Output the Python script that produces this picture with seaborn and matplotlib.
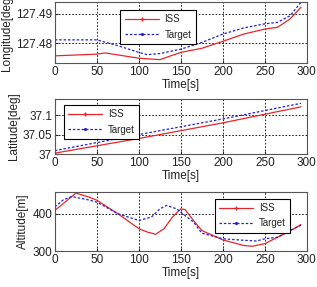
import numpy as np
import pandas as pd
import matplotlib
matplotlib.use('Agg')
import matplotlib.pyplot as plt
from matplotlib.lines import Line2D
import seaborn as sns

sns.set_style('ticks')
plt.rcParams['font.family'] = ['Liberation Sans', 'DejaVu Sans']
plt.rcParams['font.size'] = 8.5
plt.rcParams['text.color'] = '#222222'
plt.rcParams['axes.labelcolor'] = '#222222'
plt.rcParams['xtick.color'] = '#222222'
plt.rcParams['ytick.color'] = '#222222'

# 경도
lon_iss_t = [0, 50, 60, 100, 125, 150, 175, 200, 225, 250, 265, 280, 293]
lon_iss = [127.4756, 127.4762, 127.4766, 127.4748, 127.4743, 127.4768, 127.4782,
           127.4806, 127.4831, 127.4848, 127.4854, 127.4883, 127.4923]
lon_tgt_t = [0, 50, 75, 100, 110, 125, 150, 175, 200, 225, 250, 265, 280, 293]
lon_tgt = [127.4811, 127.4811, 127.4791, 127.4768, 127.4760, 127.4764, 127.4779,
           127.4802, 127.4831, 127.4852, 127.4866, 127.4871, 127.4894, 127.4940]

# 위도
lat_iss_t = [0, 100, 200, 293]
lat_iss = [37.0025, 37.040, 37.080, 37.121]
lat_tgt_t = [0, 100, 150, 200, 293]
lat_tgt = [37.009, 37.050, 37.070, 37.090, 37.130]

# 고도
alt_iss_t = [0, 10, 25, 40, 50, 75, 100, 110, 120, 130, 140, 150, 155, 165, 175,
             200, 225, 235, 250, 265, 280, 293]
alt_iss = [409, 427, 455, 445, 436, 400, 360, 351, 345, 360, 391, 413, 411, 382, 355,
           330, 315, 313, 320, 337, 354, 371]
alt_tgt_t = [0, 10, 20, 40, 50, 75, 100, 115, 125, 133, 145, 155, 165, 175,
             200, 225, 240, 250, 265, 280, 293]
alt_tgt = [418, 437, 446, 437, 431, 400, 382, 391, 413, 422, 413, 395, 378, 348,
           333, 329, 327, 333, 337, 355, 369]

panels = [
    (lon_iss_t, lon_iss, lon_tgt_t, lon_tgt, 'Longitude[deg]', (127.4731, 127.4941),
     [127.48, 127.49], ['127.48', '127.49'], (0.24, 0.95)),
    (lat_iss_t, lat_iss, lat_tgt_t, lat_tgt, 'Latitude[deg]', (37.0, 37.141),
     [37.0, 37.05, 37.1], ['37', '37.05', '37.1'], (0.016, 0.98)),
    (alt_iss_t, alt_iss, alt_tgt_t, alt_tgt, 'Altitude[m]', (300, 458),
     [300, 400], ['300', '400'], (0.615, 0.97)),
]

fig = plt.figure(figsize=(3.17, 2.87), dpi=100)
boxes = [(0.78, 0.993), (0.463, 0.655), (0.125, 0.331)]
left, right = 0.173, 0.968

for (ti, vi, tt, vt, ylab, ylim, yt, ytl, lpos), (b, t) in zip(panels, boxes):
    ax = fig.add_axes([left, b, right - left, t - b])
    d1 = pd.DataFrame({'t': ti, 'v': vi})
    d2 = pd.DataFrame({'t': tt, 'v': vt})
    sns.lineplot(data=d1, x='t', y='v', ax=ax, color='#e8262a', lw=0.9, estimator=None)
    sns.lineplot(data=d2, x='t', y='v', ax=ax, color='#2020d8', lw=0.9,
                 linestyle=(0, (2, 1.5)), estimator=None)
    ax.set_xlim(0, 300)
    ax.set_ylim(*ylim)
    ax.set_xticks([0, 50, 100, 150, 200, 250, 300])
    ax.set_yticks(yt)
    ax.set_yticklabels(ytl)
    ax.set_xlabel('Time[s]', labelpad=1)
    ax.set_ylabel(ylab, labelpad=2)
    ax.tick_params(direction='in', length=2, pad=2, labelsize=8.5)
    ax.grid(True, color='black', linestyle=(0, (2, 2)), lw=0.6)
    for s in ax.spines.values():
        s.set_color('#555555')
        s.set_linewidth(0.8)
    h = [Line2D([], [], color='#e8262a', lw=0.9, marker='+', markersize=3),
         Line2D([], [], color='#2020d8', lw=0.9, linestyle=(0, (2, 1.5)),
                marker='.', markersize=2.5)]
    leg = ax.legend(h, ['ISS', 'Target'], loc='upper left', bbox_to_anchor=lpos,
                    fontsize=7, frameon=True, fancybox=False, framealpha=1,
                    edgecolor='black', handlelength=3.5, borderpad=0.45,
                    labelspacing=0.55, handletextpad=0.6)
    leg.get_frame().set_linewidth(0.8)

fig.savefig('out.png', dpi=100)
